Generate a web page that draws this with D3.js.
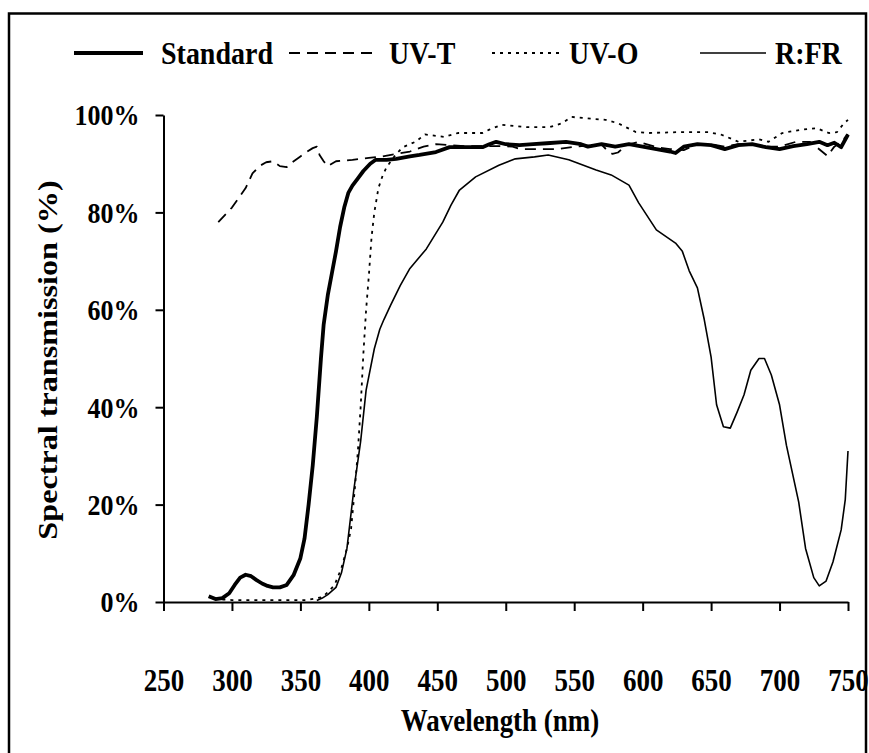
<!DOCTYPE html>
<html>
<head>
<meta charset="utf-8">
<script src="https://cdn.jsdelivr.net/npm/d3@7"></script>
<style>
  body { margin: 0; background: #fff; }
  svg text { font-family: "Liberation Serif", "Times New Roman", serif; font-weight: bold; fill: #000; }
</style>
</head>
<body>
<svg id="chart" width="869" height="753"></svg>
<script>
// wavelength (nm) / transmission (%)
var standardPts = [[283,1.2],[288,0.6],[293,0.8],[298,1.8],[302,3.5],[306,5],[310,5.6],[314,5.3],[318,4.5],[322,3.8],[326,3.3],[330,3],[335,3],[340,3.5],[345,5.5],[350,9],[353,13],[356,20],[359,28],[362,38],[365,50],[367,57],[370,63],[373,67.5],[376,72],[379,77],[382,81],[385,84],[388,85.5],[392,87],[396,88.5],[401,90],[405,90.8],[413,90.8],[420,91],[430,91.5],[437,91.8],[449,92.4],[459,93.4],[470,93.4],[483,93.4],[488,94],[493,94.5],[500,94],[510,93.8],[520,94],[530,94.2],[544,94.5],[555,94],[560,93.5],[570,94],[580,93.5],[590,94],[600,93.5],[610,93],[620,92.5],[624,92.2],[630,93.5],[640,94],[650,93.8],[660,93],[670,93.8],[680,94],[690,93.4],[700,93],[710,93.6],[720,94],[729,94.5],[735,93.8],[740,94.3],[745,93.4],[750,96]];

var uvtPts = [[290,78],[295,79.5],[300,81],[305,83],[310,85],[315,88],[320,89.5],[325,90.3],[330,90.5],[335,89.5],[340,89.3],[344,90.3],[350,91.5],[355,92.5],[359,93.2],[362,93.5],[364,91.8],[367,90.5],[370,89.5],[376,90.5],[388,90.8],[400,91.2],[410,91.5],[420,92],[430,92.5],[440,93.5],[449,94],[460,93.8],[470,93.6],[496,93.6],[505,93.5],[511,93],[538,93],[550,93.5],[560,93.7],[570,93.9],[575,92.5],[578,92],[582,92.3],[588,93.8],[597,94.5],[610,93.4],[620,93],[630,92.8],[640,94],[650,94],[660,93.5],[670,94],[680,94],[690,93.5],[700,93.5],[712,94.5],[722,94.5],[727,93.4],[735,91.6],[740,93.5],[745,94.5],[750,96]];

var uvoPts = [[293,0.5],[300,0.4],[320,0.4],[340,0.4],[355,0.4],[366,1],[370,2],[375,3.5],[380,7],[384,11],[387,15],[390,24],[392,31],[394,40],[396,51],[398,60],[400,67],[402,75],[404,80],[407,85],[410,87.5],[413,89.3],[420,92],[425,93.4],[434,94.5],[441,96],[455,95.5],[465,96.3],[483,96.3],[488,97],[497,98],[515,97.5],[532,97.5],[541,98.3],[548,99.6],[556,99.4],[573,99],[582,98.3],[595,96.5],[604,96.3],[629,96.5],[648,96.5],[658,95.9],[670,94.5],[685,95],[692,94.5],[702,96.3],[716,97],[727,97.3],[736,96.3],[742,96.5],[747,98.3],[750,99]];

var rfrPts = [[362,0.3],[366,0.8],[370,1.5],[376,3],[380,6],[384,11],[389,23],[394,33],[398,43.5],[404,52],[408,56],[411,58],[416,61],[423,65],[430,68.5],[442,72.5],[454,78],[460,81.5],[466,84.5],[478,87.3],[495,89.7],[507,91],[521,91.4],[531,91.8],[546,90.8],[566,88.7],[577,87.7],[590,85.6],[597,82],[610,76.4],[624,73.7],[629,72],[634,68],[640,64.5],[645,58],[650,50.3],[654,40.5],[659,36],[664,35.7],[669,39],[674,42.5],[679,47.6],[685,50],[689,50],[694,46.6],[700,40.5],[705,32.2],[714,20.5],[719,11],[725,5],[729,3.3],[734,4.3],[739,8.2],[745,14.8],[748,21],[750,31]];

var seriesNames = ['Standard', 'UV-T', 'UV-O', 'R:FR'];
var xTicks = [250,300,350,400,450,500,550,600,650,700,750];
var yTicks = [0,20,40,60,80,100];

var svg = d3.select('#chart');
var stretch = 1.15; // the source figure's lettering is a bit tall

// outer frame
svg.append('rect')
   .attr('x', 9).attr('y', 13.5)
   .attr('width', 857).attr('height', 800)
   .attr('fill', 'none').attr('stroke', '#000').attr('stroke-width', 2.5);

var x = d3.scaleLinear().domain([250,750]).range([163.5,848]);
var y = d3.scaleLinear().domain([0,100]).range([602,115]);

var styles = [
  {pts: standardPts, w: 3.8, dash: null},
  {pts: uvtPts, w: 1.8, dash: '11,7'},
  {pts: uvoPts, w: 1.8, dash: '3,5'},
  {pts: rfrPts, w: 1.6, dash: null}
];

// axes
var xAxis = svg.append('g')
   .attr('transform', 'translate(0,602)')
   .call(d3.axisBottom(x).tickValues(xTicks).tickSize(9).tickSizeOuter(0).tickFormat(d3.format('d')));
xAxis.selectAll('text')
   .attr('y', 0).attr('dy', 0)
   .attr('transform', 'translate(0,89) scale(1,' + stretch + ')')
   .style('font-size', '27px');

var yAxis = svg.append('g')
   .attr('transform', 'translate(163.5,0)')
   .call(d3.axisLeft(y).tickValues(yTicks).tickSize(8).tickPadding(16).tickSizeOuter(0).tickFormat(function(d){ return d + '%'; }));
yAxis.selectAll('text')
   .attr('x', 0).attr('dy', '0.33em')
   .attr('transform', 'translate(-24,0) scale(1,' + stretch + ')')
   .style('font-size', '26px');

svg.selectAll('.domain, .tick line').attr('stroke', '#000').attr('stroke-width', 2);

var line = d3.line()
  .x(function(d){ return x(d[0]); })
  .y(function(d){ return y(d[1]); });

styles.forEach(function(s){
  svg.append('path')
     .datum(s.pts)
     .attr('d', line)
     .attr('fill', 'none')
     .attr('stroke', '#000')
     .attr('stroke-width', s.w)
     .attr('stroke-linejoin', 'round')
     .attr('stroke-dasharray', s.dash);
});

// legend
var legX = [[74,143,161],[289,378,389],[492,561,569],[700,766,775]];
var legend = svg.append('g');
seriesNames.forEach(function(name, i){
  legend.append('line')
     .attr('x1', legX[i][0]).attr('x2', legX[i][1])
     .attr('y1', 53).attr('y2', 53)
     .attr('stroke', '#000')
     .attr('stroke-width', styles[i].w)
     .attr('stroke-dasharray', styles[i].dash);
  legend.append('text')
     .attr('transform', 'translate(' + legX[i][2] + ',53) scale(1,' + stretch + ')')
     .attr('dy', '0.35em')
     .style('font-size', '28px')
     .text(name);
});

// axis titles
svg.append('text')
   .attr('transform', 'translate(500,731) scale(1,' + stretch + ')')
   .attr('text-anchor', 'middle')
   .style('font-size', '27px')
   .text('Wavelength (nm)');

svg.append('text')
   .attr('transform', 'translate(57,360) scale(1,' + stretch + ') rotate(-90)')
   .attr('text-anchor', 'middle')
   .style('font-size', '28px')
   .text('Spectral transmission (%)');
</script>
</body>
</html>
